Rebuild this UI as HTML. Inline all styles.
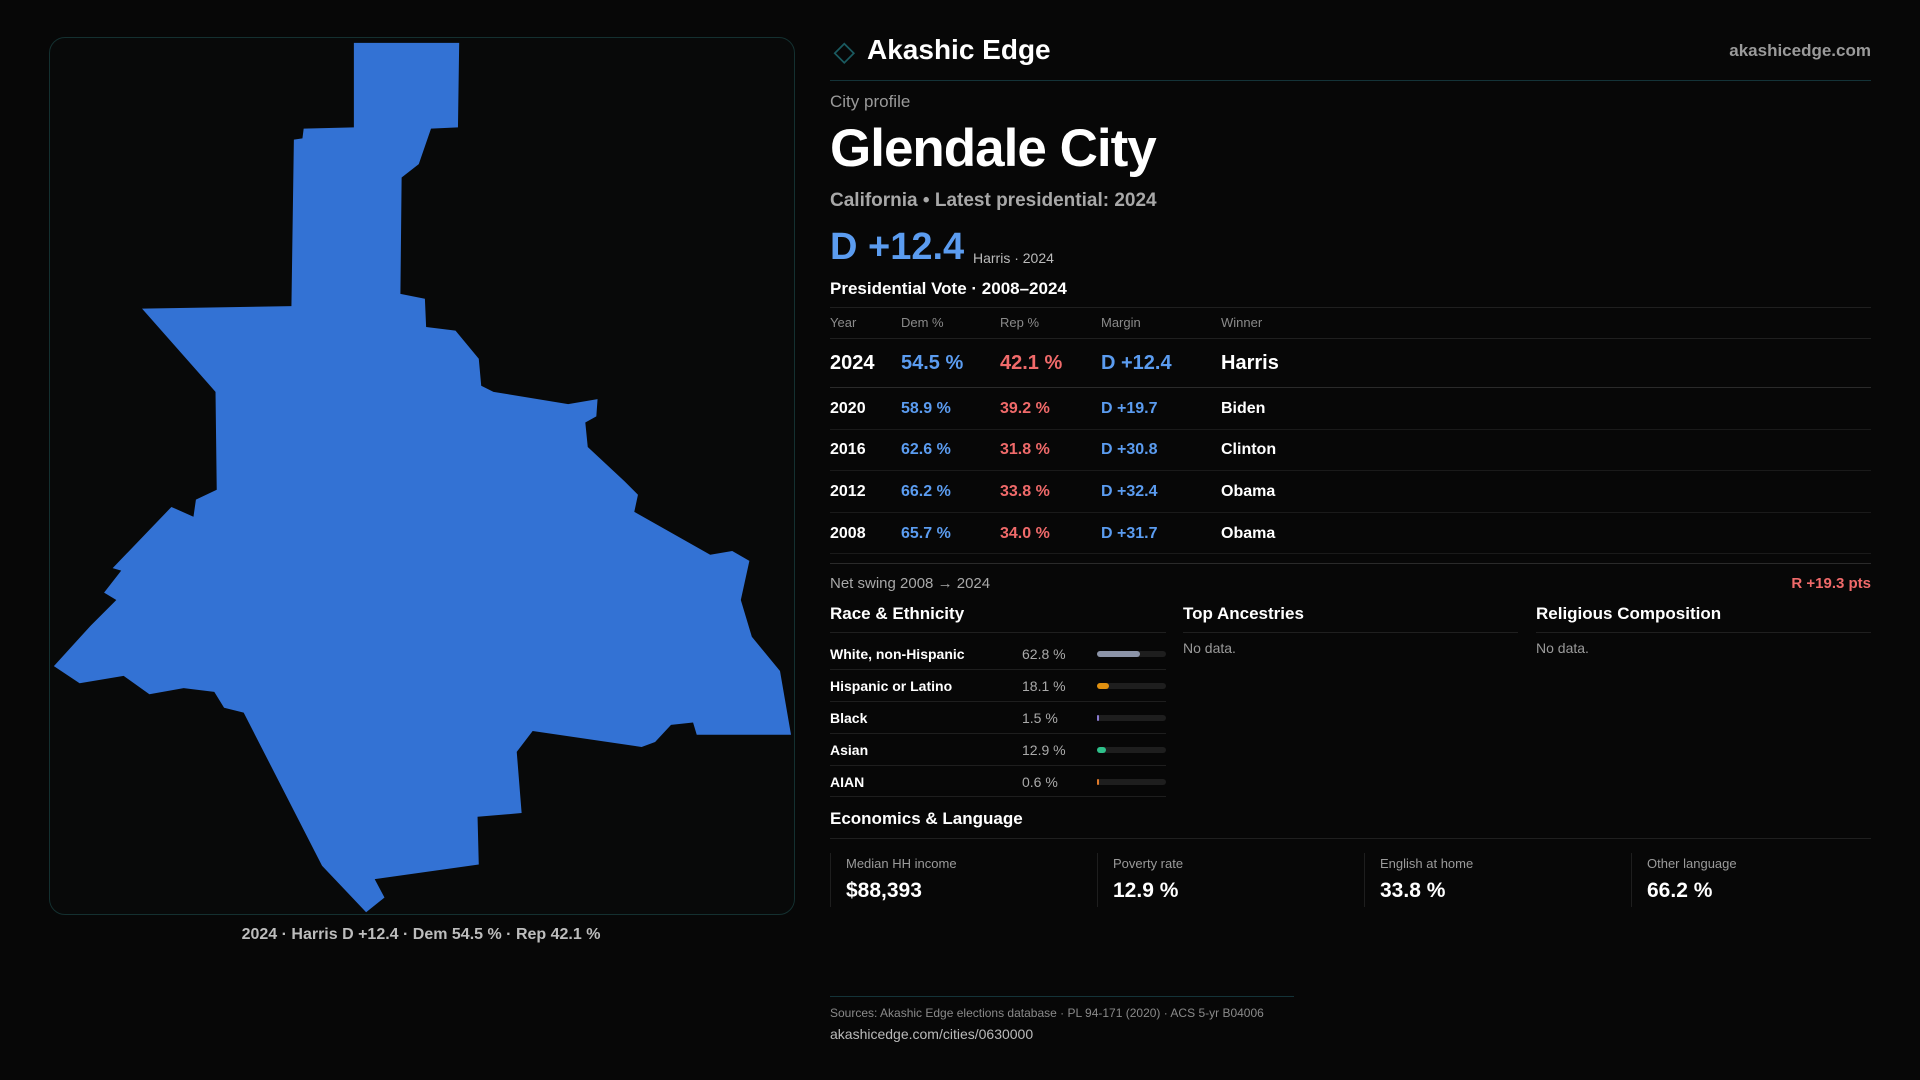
<!DOCTYPE html>
<html><head><meta charset="utf-8">
<style>
*{margin:0;padding:0;box-sizing:border-box}
body{width:1920px;height:1080px;background:#070707;font-family:"Liberation Sans",sans-serif;color:#fff;position:relative;overflow:hidden}
.a{position:absolute;white-space:nowrap}
.line{position:absolute;height:1px;background:#1f1f1f}
.blue{color:#5b9cf0}.red{color:#f06a6a}.gray{color:#9a9a9a}
.hdr{font-size:13px;color:#8a8a8a}
</style></head><body>
<div class="a" style="left:49px;top:37px;width:746px;height:878px;border:1px solid #143030;border-radius:16px;background:#080909"></div>
<svg class="a" style="left:0;top:0" width="1920" height="1080" viewBox="0 0 1568 882">
<polygon fill="#3372d4" points="289,35 375,35 374,104 352,105 342,134 328,145 327,240 347,244 348,267 372,270 391,293 393,315 403,320 464,330 488,326 487,340 478,345 480,365 510,393 521,404 518,418 580,453 598,450 612,458 605,490 614,520 637,548 646,600 569,600 566,590 548,592 535,606 524,610 435,597 422,614 426,664 390,667 391,706 306,718 314,733 299,745 263,707 199,582 183,578 175,565 150,562 122,567 101,552 65,558 44,544 74,511 95,490 85,484 99,466 92,464 140,414 158,422 160,408 177,400 176,320 116,252 238,250 240,114 247,113 248,105 289,104"/>
<rect x="684" y="38" width="11" height="11" transform="rotate(45 689.5 43.5)" fill="none" stroke="#1a5a60" stroke-width="1.4"/>
</svg>
<div class="a" style="left:421px;top:926px;transform:translateX(-50%);font-size:16px;color:#bdbdbd;font-weight:bold">2024 · Harris D +12.4 · Dem 54.5 % · Rep 42.1 %</div>

<div class="a" style="left:867px;top:34px;font-size:28px;font-weight:bold">Akashic Edge</div>
<div class="a" style="right:49px;top:41px;font-size:17px;color:#9a9a9a;font-weight:bold">akashicedge.com</div>
<div class="line" style="left:830px;top:80px;width:1041px;background:#143338"></div>
<div class="a gray" style="left:830px;top:92px;font-size:17px">City profile</div>
<div class="a" style="left:830px;top:118px;font-size:53px;font-weight:bold;letter-spacing:-1px">Glendale City</div>
<div class="a" style="left:830px;top:190px;font-size:19px;color:#a8a8a8;font-weight:bold">California • Latest presidential: 2024</div>
<div class="a blue" style="left:830px;top:226px;font-size:38px;font-weight:bold">D +12.4</div>
<div class="a" style="left:973px;top:250px;font-size:14px;color:#bbb">Harris · 2024</div>
<div class="a" style="left:830px;top:279px;font-size:17px;font-weight:bold">Presidential Vote · 2008–2024</div>
<div class="line" style="left:830px;top:307px;width:1041px"></div>
<div class="a hdr" style="left:830px;top:315px">Year</div>
<div class="a hdr" style="left:901px;top:315px">Dem %</div>
<div class="a hdr" style="left:1000px;top:315px">Rep %</div>
<div class="a hdr" style="left:1101px;top:315px">Margin</div>
<div class="a hdr" style="left:1221px;top:315px">Winner</div>
<div class="line" style="left:830px;top:338px;width:1041px"></div>
<div id="vote-table"></div>

<div class="line" style="left:830px;top:563px;width:1041px;background:#2a2a2a"></div>
<div class="a" style="left:830px;top:575px;font-size:15px;color:#a8a8a8">Net swing 2008 → 2024</div>
<div class="a red" style="right:49px;top:575px;font-size:15px;font-weight:bold">R +19.3 pts</div>

<div class="a" style="left:830px;top:604px;font-size:17px;font-weight:bold">Race &amp; Ethnicity</div>
<div class="a" style="left:1183px;top:604px;font-size:17px;font-weight:bold">Top Ancestries</div>
<div class="a" style="left:1536px;top:604px;font-size:17px;font-weight:bold">Religious Composition</div>
<div class="line" style="left:830px;top:632px;width:336px"></div>
<div class="line" style="left:1183px;top:632px;width:335px"></div>
<div class="line" style="left:1536px;top:632px;width:335px"></div>
<div class="a gray" style="left:1183px;top:640px;font-size:14px">No data.</div>
<div class="a gray" style="left:1536px;top:640px;font-size:14px">No data.</div>
<div id="race"></div>

<div class="a" style="left:830px;top:809px;font-size:17px;font-weight:bold">Economics &amp; Language</div>
<div class="line" style="left:830px;top:838px;width:1041px"></div>
<div id="stats"></div>

<div class="line" style="left:830px;top:996px;width:464px;background:#143338"></div>
<div class="a" style="left:830px;top:1006px;font-size:12px;color:#8a8a8a">Sources: Akashic Edge elections database · PL 94-171 (2020) · ACS 5-yr B04006</div>
<div class="a" style="left:830px;top:1026px;font-size:14px;color:#bbb">akashicedge.com/cities/0630000</div>

<script>
const years=["2024","2020","2016","2012","2008"];
const demPct=[54.5,58.9,62.6,66.2,65.7];
const repPct=[42.1,39.2,31.8,33.8,34.0];
const winners=["Harris","Biden","Clinton","Obama","Obama"];
const raceLabels=["White, non-Hispanic","Hispanic or Latino","Black","Asian","AIAN"];
const racePct=[62.8,18.1,1.5,12.9,0.6];
const raceColors=["#8c94a8","#e0900f","#8a7bd0","#2ec08a","#e07a2a"];
const statLabels=["Median HH income","Poverty rate","English at home","Other language"];
const statValues=["$88,393","12.9 %","33.8 %","66.2 %"];

function mk(parent,css,txt){const d=document.createElement('div');d.className='a';d.style.cssText=css;if(txt!==undefined)d.textContent=txt;parent.appendChild(d);return d;}
const vt=document.getElementById('vote-table');
const rowY=[352,399,440,482,524];const rowLine=[387,429,470,512,553];
years.forEach((y,i)=>{
  const big=i===0, fs=big?20:16, t=rowY[i]+(big?0:1);
  const m=demPct[i]-repPct[i];
  const c=mk(vt,`left:830px;top:${t}px;font-size:${fs}px;font-weight:bold`,y);
  
  
  const d=mk(vt,`left:901px;top:${t}px;font-size:${fs}px;font-weight:bold;color:#5b9cf0`,demPct[i].toFixed(1)+' %');
  
  
  const r=mk(vt,`left:1000px;top:${t}px;font-size:${fs}px;font-weight:bold;color:#f06a6a`,repPct[i].toFixed(1)+' %');
  
  
  const g=mk(vt,`left:1101px;top:${t}px;font-size:${fs}px;font-weight:bold;color:${m>=0?'#5b9cf0':'#f06a6a'}`,(m>=0?'D +':'R +')+Math.abs(m).toFixed(1));
  
  
  const w=mk(vt,`left:1221px;top:${t}px;font-size:${fs}px;font-weight:bold`,winners[i]);
  
  
  mk(vt,`left:830px;top:${rowLine[i]}px;width:1041px;height:1px;background:${i===0?'#2a2a2a':'#1a1a1a'}`);
});
const rc=document.getElementById('race');
const trackX=1097,trackW=69;
function xScale(p){return p/100*trackW;}
raceLabels.forEach((lab,i)=>{
  const cy=654+i*32;
  const a=mk(rc,`left:830px;top:${cy-8}px;font-size:14px;font-weight:bold`,lab);
  
  
  const b=mk(rc,`left:1022px;top:${cy-8}px;font-size:14px;color:#aaa`,racePct[i].toFixed(1)+' %');
  
  
  mk(rc,`left:${trackX}px;top:${cy-3}px;width:${trackW}px;height:6px;border-radius:3px;background:#1e1e1e`);
  const f=mk(rc,`left:${trackX}px;top:${cy-3}px;width:${Math.max(1.5,xScale(racePct[i]))}px;height:6px;border-radius:3px;background:${raceColors[i]}`);
  
  
  if(i<4) mk(rc,`left:830px;top:${cy+15}px;width:336px;height:1px;background:#1e1e1e`);
});
mk(rc,`left:830px;top:796px;width:336px;height:1px;background:#1e1e1e`);
const st=document.getElementById('stats');
statLabels.forEach((lab,i)=>{
  const x=830+i*267;
  const card=mk(st,`left:${x}px;top:853px;width:250px;height:54px;border-left:1px solid #1e1e1e`);
  
  
  const l=mk(st,`left:${x+16}px;top:856px;font-size:13px;color:#9a9a9a`,lab);
  
  
  const v=mk(st,`left:${x+16}px;top:879px;font-size:21px;font-weight:bold`,statValues[i]);
  
  
});
</script>
</body></html>
